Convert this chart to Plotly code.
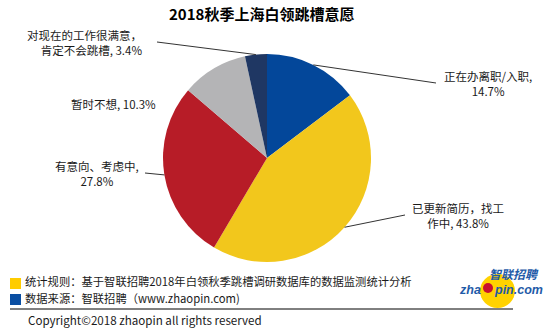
import math
import plotly.graph_objects as go

# ---- data ----
categories = ["正在办离职/入职", "已更新简历，找工作中", "有意向、考虑中", "暂时不想", "对现在的工作很满意，肯定不会跳槽"]
values = [14.7, 43.8, 27.8, 10.3, 3.4]
colors = ["#03479A", "#F2C71C", "#B71C27", "#B4B4B6", "#1F3763"]
label_texts = [
    "正在办离职/入职,<br>14.7%",
    "已更新简历，找工<br>作中, 43.8%",
    "有意向、考虑中,<br>27.8%",
    "暂时不想, 10.3%",
    "对现在的工作很满意，<br>肯定不会跳槽, 3.4%",
]
title_text = "2018秋季上海白领跳槽意愿"
note1 = "统计规则：基于智联招聘2018年白领秋季跳槽调研数据库的数据监测统计分析"
note2 = "数据来源：智联招聘（www.zhaopin.com)"
copyright_text = "Copyright©2018 zhaopin all rights reserved"

W, H = 554, 334
FONT = "Noto Sans CJK SC"
TXT = "#1a1a1a"
LBL_SIZE = 11.5

def fx(x):
    return x / W

def fy(y):
    return 1 - y / H

# pie geometry (pixels)
cx, cy, r = 267, 158, 104

fig = go.Figure()
fig.add_trace(go.Pie(
    labels=categories, values=values, sort=False, direction="clockwise", rotation=0,
    marker=dict(colors=colors, line=dict(width=0)),
    textinfo="none", hoverinfo="label+percent", showlegend=False,
    domain=dict(x=[fx(cx - r), fx(cx + r)], y=[fy(cy + r), fy(cy - r)]),
))

# label positions (pixel center) and alignment, leader line outer end
label_pos = [
    (488, 83, "center", (436, 83)),
    (458, 215, "center", (405, 215)),
    (97, 173, "center", (145, 173)),
    (113, 104, "center", None),
    (144, 42, "right", (157, 42)),
]

annotations = []
shapes = []
cum = 0.0
total = sum(values)
for v, txt, (lx, ly, al, lend) in zip(values, label_texts, label_pos):
    mid = (cum + v / 2) / total * 2 * math.pi
    cum += v
    ex = cx + r * math.sin(mid)
    ey = cy - r * math.cos(mid)
    annotations.append(dict(x=fx(lx), y=fy(ly), xref="paper", yref="paper", text=txt,
                            showarrow=False, xanchor=al, yanchor="middle", align=al,
                            font=dict(family=FONT, size=LBL_SIZE, color=TXT)))
    if lend is not None:
        shapes.append(dict(type="line", xref="paper", yref="paper",
                           x0=fx(lend[0]), y0=fy(lend[1]), x1=fx(ex), y1=fy(ey),
                           line=dict(color="#333333", width=1)))

# title
annotations.append(dict(x=fx(261), y=fy(13), xref="paper", yref="paper", text="<b>" + title_text + "</b>",
                        showarrow=False, xanchor="center", yanchor="middle",
                        font=dict(family=FONT, size=15, color="#000000")))
# notes
annotations.append(dict(x=fx(23), y=fy(281), xref="paper", yref="paper", text=note1,
                        showarrow=False, xanchor="left", yanchor="middle",
                        font=dict(family=FONT, size=11.3, color=TXT)))
annotations.append(dict(x=fx(23), y=fy(298), xref="paper", yref="paper", text=note2,
                        showarrow=False, xanchor="left", yanchor="middle",
                        font=dict(family=FONT, size=11.3, color=TXT)))
annotations.append(dict(x=fx(26), y=fy(320), xref="paper", yref="paper", text=copyright_text,
                        showarrow=False, xanchor="left", yanchor="middle",
                        font=dict(family=FONT, size=11.6, color=TXT)))

# legend squares
shapes.append(dict(type="rect", xref="paper", yref="paper", x0=fx(10), x1=fx(21), y0=fy(289), y1=fy(278),
                   fillcolor="#FFCC00", line=dict(width=0)))
shapes.append(dict(type="rect", xref="paper", yref="paper", x0=fx(10), x1=fx(21), y0=fy(305), y1=fy(294),
                   fillcolor="#0A4EA2", line=dict(width=0)))
# separator line
shapes.append(dict(type="line", xref="paper", yref="paper", x0=fx(10), x1=fx(513), y0=fy(309), y1=fy(309),
                   line=dict(color="#000000", width=1)))

# logo
shapes.append(dict(type="circle", xref="paper", yref="paper", x0=fx(480), x1=fx(515), y0=fy(308), y1=fy(274),
                   fillcolor="#FFD200", line=dict(width=0), layer="below"))
shapes.append(dict(type="circle", xref="paper", yref="paper", x0=fx(483), x1=fx(493), y0=fy(293), y1=fy(283),
                   fillcolor="#C8102E", line=dict(width=0)))
LOGO = "#1F5BA8"
annotations.append(dict(x=fx(514), y=fy(273), xref="paper", yref="paper", text="<b><i>智联招聘</i></b>",
                        showarrow=False, xanchor="center", yanchor="middle", borderpad=0,
                        font=dict(family=FONT, size=12, color=LOGO)))
annotations.append(dict(x=fx(482), y=fy(290), xref="paper", yref="paper", text="<b><i>zha</i></b>",
                        showarrow=False, xanchor="right", yanchor="middle", borderpad=0,
                        font=dict(family="Liberation Sans", size=12.5, color=LOGO)))
annotations.append(dict(x=fx(493), y=fy(290), xref="paper", yref="paper", text="<b><i>pin.com</i></b>",
                        showarrow=False, xanchor="left", yanchor="middle", borderpad=0,
                        font=dict(family="Liberation Sans", size=12.5, color=LOGO)))

fig.update_layout(
    width=W, height=H, margin=dict(l=0, r=0, t=0, b=0),
    paper_bgcolor="white", plot_bgcolor="white",
    annotations=annotations, shapes=shapes,
)
fig.write_html("out.html")
